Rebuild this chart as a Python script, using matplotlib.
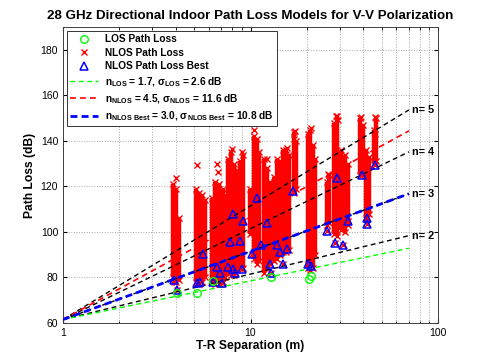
import matplotlib
matplotlib.use("Agg")
import matplotlib.pyplot as plt
import numpy as np
from matplotlib.lines import Line2D

plt.rcParams['font.family'] = ['Liberation Sans', 'DejaVu Sans']
plt.rcParams['mathtext.fontset'] = 'custom'
plt.rcParams['mathtext.rm'] = 'Liberation Sans:bold'
plt.rcParams['mathtext.bf'] = 'Liberation Sans:bold'
plt.rcParams['mathtext.it'] = 'Liberation Sans:bold'

# ---------------- data ----------------
fspl_1m = 61.4
model_n = [2, 3, 4, 5]
n_los, sigma_los = 1.7, 2.6
n_nlos, sigma_nlos = 4.5, 11.6
n_best, sigma_best = 3.0, 10.8
line_d = [1, 70]

# NLOS measurement columns: distance (m), lowest and highest path loss (dB)
nlos_col_d = [3.85, 4.0, 4.15, 5.1, 5.3, 5.5, 5.7, 6.25, 6.5, 6.8, 7.1, 7.3,
              7.6, 7.9, 8.2, 8.45, 8.8, 9.15, 9.9, 10.4, 10.8, 11.1,
              11.8, 12.2, 12.7, 13.3, 13.8, 14.3, 14.9, 15.5, 16.0,
              17.1, 17.5, 20.2, 20.8, 21.5, 22.0, 25.5, 26.3, 28.0, 29.0,
              30.5, 31.8, 33.3, 38.5, 40.0, 41.3, 42.8, 45.5, 46.5]
nlos_col_lo = [80, 78, 79, 78, 77, 78, 80, 78, 77, 77, 78, 80,
               82, 81, 81, 83, 84, 84, 99, 88, 86, 87,
               82, 84, 86, 87, 88, 90, 91, 91, 92,
               117, 119, 84, 83, 84, 90, 103, 104, 99, 98,
               101, 100, 103, 125, 127, 106, 108, 130, 131]
nlos_col_hi = [121, 119, 106, 119, 117, 116, 114, 115, 122, 121, 119, 116,
               132, 135, 130, 127, 131, 134, 119, 142, 141, 135,
               132, 128, 122, 124, 132, 131, 136, 136, 134,
               144, 140, 143, 145, 138, 132, 122, 125, 148, 151,
               136, 134, 130, 150, 147, 136, 133, 145, 150]

# isolated NLOS points
nlos_pt_d = [4.0, 5.2, 6.6, 6.7, 8.0, 9.0, 10.5, 12.2, 15.7, 17.2, 17.1,
             21.0, 25.8, 28.5, 29.2, 39.0, 46.3, 46.3, 3.9, 5.3, 6.9, 7.8]
nlos_pt_pl = [123.5, 129.5, 130, 126.5, 136.5, 135, 144.8, 132, 137, 144.5, 141,
              145.5, 125.6, 151, 149, 150.5, 150.5, 143, 78, 77, 77, 82]

# NLOS best-pointing
best_d = [3.9, 4.05, 5.18, 5.37, 5.58, 6.3, 6.62, 6.88, 7.05,
          7.6, 7.78, 8.07, 8.07, 8.27, 8.79, 9.0, 9.12, 10.2, 10.8,
          11.4, 12.2, 12.7, 12.9, 13.8, 14.4, 14.9, 15.7, 16.9,
          20.3, 20.9, 25.6, 28.2, 28.9, 31.1, 33.1, 39.3, 41.8, 41.8, 46.1]
best_pl = [78.7, 74.5, 77.4, 77.8, 90.4, 77.8, 84.3, 81.7, 77.4,
           84.4, 95.3, 107.8, 83.8, 81.7, 96, 83.8, 104.8, 90.4, 114.8,
           94, 104, 86, 82, 94, 91, 86, 92.6, 117.8,
           86, 85, 100.4, 95.2, 123.5, 94, 104.8, 125, 106, 103.5, 129.5]

# LOS
los_d = [4.05, 5.2, 6.3, 12.8, 20.4, 20.9]
los_pl = [73, 73, 78.5, 80, 79.3, 80.6]

# ---------------- figure ----------------
fig = plt.figure(figsize=(4.85, 3.63), dpi=100)
ax = fig.add_axes([0.1299, 0.111, 0.7732, 0.8138])
ax.set_xscale('log')

red = '#ff0000'
ax.vlines(nlos_col_d, nlos_col_lo, nlos_col_hi, colors=red, lw=3.2, zorder=2)
ax.plot(nlos_col_d, nlos_col_hi, 'x', color=red, ms=4, mew=1.0, zorder=2)
ax.plot(nlos_col_d, nlos_col_lo, 'x', color=red, ms=4, mew=1.0, zorder=2)
ax.plot(nlos_pt_d, nlos_pt_pl, 'x', color=red, ms=4, mew=1.0, zorder=2)
ax.plot(best_d, best_pl, 'x', color=red, ms=4, mew=1.0, zorder=2)

dash = (0, (3.5, 2.5))
ld = np.array(line_d, dtype=float)
for n in model_n:
    ax.plot(ld, fspl_1m + 10 * n * np.log10(ld), color='k', ls=dash, lw=1.0, zorder=3)
    ax.text(73, fspl_1m + 10 * n * np.log10(70), 'n= %d' % n, fontsize=7.8,
            fontweight='bold', va='center', ha='left')
ax.plot(ld, fspl_1m + 10 * n_los * np.log10(ld), color='#00ff00', ls=dash, lw=1.0, zorder=3)
ax.plot(ld, fspl_1m + 10 * n_nlos * np.log10(ld), color=red, ls=dash, lw=1.2, zorder=3)
ax.plot(ld, fspl_1m + 10 * n_best * np.log10(ld), color='#0000ff', ls=(0, (2.5, 1.5)), lw=2.0, zorder=3)

ax.plot(best_d, best_pl, '^', mfc='none', mec='#0000ff', ms=5.5, mew=1.1, zorder=4)
ax.plot(los_d, los_pl, 'o', mfc='none', mec='#00ff00', ms=5.5, mew=1.0, zorder=4)

ax.set_xlim(1, 100)
ax.set_ylim(60, 190)
ax.set_yticks([60, 80, 100, 120, 140, 160, 180])
ax.set_xticks([1, 10, 100])
ax.set_xticklabels(['1', '10', '100'])
ax.tick_params(which='both', direction='in', top=True, right=True, labelsize=7.5, length=3)
ax.tick_params(which='minor', length=1.8)
ax.grid(True, which='major', ls=':', color='0.65', lw=0.7)
ax.grid(True, which='minor', axis='x', ls=':', color='0.65', lw=0.7)
ax.set_axisbelow(True)
for s in ax.spines.values():
    s.set_linewidth(0.7)
    s.set_color('0.25')

ax.set_title('28 GHz Directional Indoor Path Loss Models for V-V Polarization',
             fontsize=9.6, fontweight='bold', pad=6)
ax.set_xlabel('T-R Separation (m)', fontsize=8.7, fontweight='bold', labelpad=2)
ax.set_ylabel('Path Loss (dB)', fontsize=8.7, fontweight='bold', labelpad=3)

handles = [
    Line2D([], [], ls='none', marker='o', mfc='none', mec='#00ff00', ms=5.5),
    Line2D([], [], ls='none', marker='x', color=red, ms=4),
    Line2D([], [], ls='none', marker='^', mfc='none', mec='#0000ff', ms=5.5, mew=1.1),
    Line2D([], [], color='#00ff00', ls=dash, lw=1.0),
    Line2D([], [], color=red, ls=dash, lw=1.2),
    Line2D([], [], color='#0000ff', ls=(0, (2.5, 1.5)), lw=2.0),
]
labels = [
    'LOS Path Loss',
    'NLOS Path Loss',
    'NLOS Path Loss Best',
    r'n$_{\rm LOS}$ = %.1f, σ$_{\rm LOS}$ = %.1f dB' % (n_los, sigma_los),
    r'n$_{\rm NLOS}$ = %.1f, σ$_{\rm NLOS}$ = %.1f dB' % (n_nlos, sigma_nlos),
    r'n$_{\rm NLOS\ Best}$ = %.1f, σ$_{\rm NLOS\ Best}$ = %.1f dB' % (n_best, sigma_best),
]
leg = ax.legend(handles, labels, loc='upper left', frameon=True, fancybox=False,
                borderaxespad=0.35, handlelength=2.8, handletextpad=0.6, labelspacing=0.35,
                borderpad=0.35, prop={'weight': 'bold', 'size': 7.3})
leg.get_frame().set_edgecolor('0.2')
leg.get_frame().set_linewidth(0.7)
leg.get_frame().set_alpha(1)

fig.savefig('out.png', dpi=100)
